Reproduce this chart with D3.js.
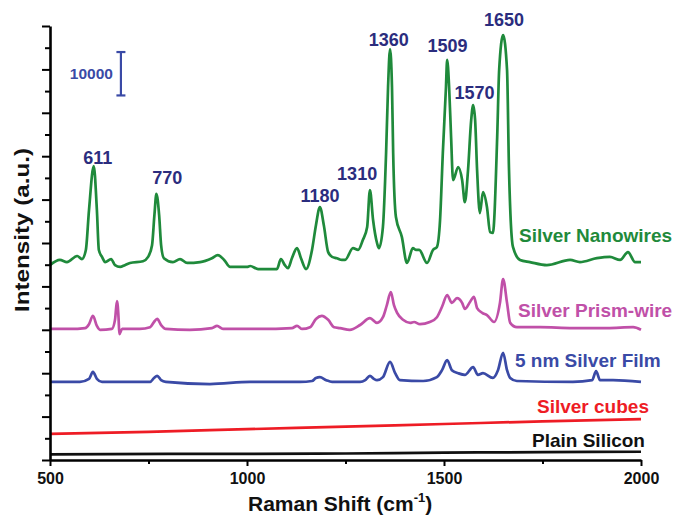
<!DOCTYPE html>
<html>
<head>
<meta charset="utf-8">
<script src="https://cdn.jsdelivr.net/npm/d3@7"></script>
<style>
  body { margin: 0; background: #fff; }
  svg { display: block; }
  .axis path, .axis line { stroke: #000; }
  text { font-family: "Liberation Sans", Arial, sans-serif; font-weight: bold; }
</style>
</head>
<body>
<div id="chart"></div>
<script>
// spectra: [Raman shift (cm-1), intensity]
var nanowires = [
  [500, 44900], [525, 46100], [543, 45600], [569, 47000], [581, 46300], [591, 48400],
  [599, 57600], [611, 67700], [619, 57600], [624, 48400], [632, 46800], [640, 45600],
  [655, 46300], [665, 44900], [678, 44500], [690, 44900], [703, 45400], [736, 45800],
  [749, 46800], [759, 49500], [765, 56400], [770, 61300], [777, 56400], [782, 49500],
  [789, 46500], [812, 45600], [830, 46300], [848, 45400], [881, 45600], [911, 46500],
  [926, 47200], [942, 46100], [957, 44500], [1000, 44500], [1008, 44700], [1028, 44000],
  [1076, 44000], [1086, 46300], [1096, 44900], [1104, 44200], [1114, 46500], [1127, 48800],
  [1137, 46500], [1150, 44000], [1165, 48400], [1175, 54100], [1185, 58300], [1195, 54100],
  [1206, 47900], [1216, 46800], [1228, 46500], [1241, 46100], [1249, 46100], [1269, 48800],
  [1282, 48400], [1294, 50700], [1305, 53700], [1312, 62200], [1320, 55300], [1330, 50000],
  [1335, 48800], [1345, 53700], [1353, 70700], [1358, 85900], [1363, 94700], [1368, 85900],
  [1371, 70700], [1378, 56000], [1393, 51400], [1406, 45400], [1421, 48800], [1429, 48400],
  [1437, 48400], [1457, 45400], [1472, 48400], [1482, 49100], [1490, 55300], [1497, 70700],
  [1505, 85900], [1508, 92200], [1513, 85900], [1518, 74400], [1523, 64500], [1536, 67500],
  [1546, 64500], [1553, 59400], [1561, 66800], [1569, 78300], [1574, 81800], [1579, 78300],
  [1584, 66800], [1591, 56900], [1599, 61700], [1609, 58300], [1617, 52500], [1624, 52300],
  [1635, 74400], [1640, 89900], [1650, 97900], [1660, 89900], [1665, 66800], [1675, 49100],
  [1693, 46100], [1718, 45600], [1761, 44900], [1820, 46100], [1845, 45600], [1888, 46500],
  [1921, 46800], [1947, 46100], [1967, 47900], [1985, 45600], [2000, 45600]
];

var prismwire = [
  [500, 30200], [551, 30200], [589, 30400], [599, 31300], [609, 33200], [619, 30900],
  [627, 30000], [657, 30200], [665, 32300], [670, 36600], [674, 32700], [676, 29000],
  [683, 30200], [728, 30200], [754, 30600], [764, 31800], [772, 32500], [782, 31100],
  [794, 30200], [855, 30000], [911, 30400], [924, 30900], [939, 30200], [1033, 30200],
  [1114, 30400], [1127, 30900], [1140, 30200], [1160, 30600], [1175, 32500], [1190, 33200],
  [1206, 32300], [1221, 30600], [1236, 30400], [1261, 30000], [1287, 31100], [1312, 32700],
  [1330, 31600], [1345, 32900], [1355, 35700], [1365, 38700], [1373, 35700], [1381, 33900],
  [1396, 32300], [1414, 31600], [1424, 31800], [1439, 31300], [1464, 31800], [1482, 32900],
  [1495, 35300], [1508, 38000], [1520, 36200], [1533, 37300], [1546, 36200], [1553, 34800],
  [1566, 36400], [1576, 37600], [1584, 35000], [1597, 33900], [1609, 33400], [1627, 31800],
  [1642, 36200], [1650, 41700], [1660, 36200], [1668, 31600], [1685, 30600], [1744, 30600],
  [1827, 30400], [1914, 30400], [1980, 30600], [2000, 30000]
];

var silverfilm = [
  [500, 18000], [576, 18000], [599, 18700], [609, 20300], [619, 18700], [632, 18000],
  [754, 18000], [764, 18900], [772, 19400], [782, 18400], [794, 18000], [906, 17500],
  [1008, 18000], [1135, 18000], [1165, 18200], [1175, 18900], [1185, 19100], [1201, 18400],
  [1216, 18000], [1287, 18000], [1300, 18400], [1312, 19400], [1322, 18700], [1330, 18400],
  [1345, 19100], [1363, 22600], [1376, 20000], [1388, 18400], [1447, 18200], [1482, 19100],
  [1495, 20700], [1508, 23000], [1520, 20700], [1536, 20000], [1553, 19600], [1574, 21400],
  [1586, 19600], [1599, 20000], [1624, 18900], [1637, 20700], [1650, 24700], [1660, 20700],
  [1668, 18900], [1685, 18200], [1827, 18000], [1876, 18400], [1886, 20500], [1896, 18400],
  [1929, 18400], [2000, 18000]
];

var cubes = [
  [500, 6000], [750, 6500], [1000, 7100], [1250, 7700], [1500, 8300], [1750, 8900], [2000, 9400]
];

var silicon = [
  [500, 1300], [800, 1400], [1000, 1400], [1250, 1500], [1500, 1700], [1750, 1800], [2000, 1900]
];

var seriesNames = ["Silver Nanowires", "Silver Prism-wire", "5 nm Silver Film", "Silver cubes", "Plain Silicon"];
var seriesColors = ["#1f8a3b", "#c050a8", "#3a4aa6", "#ee1c25", "#111111"];

var peakShifts = [611, 770, 1180, 1310, 1360, 1509, 1570, 1650];
var peakLabels = ["611", "770", "1180", "1310", "1360", "1509", "1570", "1650"];

var xTicks = [500, 1000, 1500, 2000];
var xMinorTicks = [750, 1250, 1750];
var scaleBarValue = 10000;

var width = 673, height = 515;
var svg = d3.select("#chart").append("svg").attr("width", width).attr("height", height);

var x = d3.scaleLinear().domain([500, 2000]).range([50, 641]);
var y = d3.scaleLinear().domain([0, 100000]).range([460, 26]);

var line = d3.line()
  .x(function(d) { return x(d[0]); })
  .y(function(d) { return y(d[1]); })
  .curve(d3.curveMonotoneX);

var allSeries = [nanowires, prismwire, silverfilm, cubes, silicon];

svg.append("g").selectAll("path").data(allSeries).enter().append("path")
  .attr("d", line)
  .attr("fill", "none")
  .attr("stroke", function(d, i) { return seriesColors[i]; })
  .attr("stroke-width", 2.7)
  .attr("stroke-linejoin", "round");

// axes
var yMajor = d3.range(0, 100001, 10000);
var yMinor = d3.range(5000, 100000, 10000);

svg.append("g").attr("class", "axis").attr("transform", "translate(50,0)")
  .call(d3.axisLeft(y).tickValues(yMinor).tickSize(5).tickSizeOuter(0).tickFormat(""))
  .call(function(g) { g.selectAll("line").attr("stroke-width", 2); g.select(".domain").remove(); });

svg.append("g").attr("class", "axis").attr("transform", "translate(50,0)")
  .call(d3.axisLeft(y).tickValues(yMajor).tickSize(8).tickSizeOuter(0).tickFormat(""))
  .call(function(g) { g.selectAll("line").attr("stroke-width", 2); g.select(".domain").attr("stroke-width", 2.6); });

svg.append("g").attr("class", "axis").attr("transform", "translate(0,460)")
  .call(d3.axisBottom(x).tickValues(xMinorTicks).tickSize(4).tickSizeOuter(0).tickFormat(""))
  .call(function(g) { g.selectAll("line").attr("stroke-width", 2); g.select(".domain").remove(); });

svg.append("g").attr("class", "axis").attr("transform", "translate(0,460)")
  .call(d3.axisBottom(x).tickValues(xTicks).tickSize(6).tickSizeOuter(0).tickPadding(7).tickFormat(d3.format("d")))
  .call(function(g) {
    g.selectAll("line").attr("stroke-width", 2);
    g.select(".domain").attr("stroke-width", 2.6);
    g.selectAll("text").attr("font-size", 16).attr("font-weight", "bold")
      .attr("font-family", "Liberation Sans, Arial, sans-serif").attr("fill", "#111");
  });

// axis titles
svg.append("text")
  .attr("transform", "translate(29,230) rotate(-90)")
  .attr("text-anchor", "middle")
  .attr("font-size", 21)
  .attr("textLength", 164)
  .attr("lengthAdjust", "spacingAndGlyphs")
  .attr("fill", "#111")
  .text("Intensity (a.u.)");

var xt = svg.append("text")
  .attr("x", 248).attr("y", 511)
  .attr("font-size", 21)
  .attr("fill", "#111");
xt.append("tspan").text("Raman Shift (cm");
xt.append("tspan").attr("font-size", 13).attr("dy", -9).text("-1");
xt.append("tspan").attr("dy", 9).text(")");

// peak labels, placed over the highest point near each shift
var peakDx = [4, 11, 2, -12, 0, 0, 3, 1];
var peakDy = [-2, -10, -5, -10, -3, -8, -6, -9];
svg.append("g").selectAll("text").data(peakShifts).enter().append("text")
  .attr("x", function(d, i) { return x(d) + peakDx[i]; })
  .attr("y", function(d, i) {
    var top = d3.max(nanowires.filter(function(p) { return Math.abs(p[0] - d) <= 8; }), function(p) { return p[1]; });
    return y(top) + peakDy[i];
  })
  .attr("text-anchor", "middle")
  .attr("font-size", 18)
  .attr("fill", "#2b2d7e")
  .text(function(d, i) { return peakLabels[i]; });

// series labels
var labelPos = [[519, 242], [518, 317], [515, 367], [537, 413], [532, 447]];
svg.append("g").selectAll("text").data(seriesNames).enter().append("text")
  .attr("x", function(d, i) { return labelPos[i][0]; })
  .attr("y", function(d, i) { return labelPos[i][1]; })
  .attr("font-size", 19)
  .attr("fill", function(d, i) { return seriesColors[i]; })
  .text(function(d) { return d; });

// 10000 counts scale bar
var barX = x(680), barTop = y(84000 + scaleBarValue), barBottom = y(84000);
var bar = svg.append("g").attr("stroke", "#3a4aa6").attr("stroke-width", 2.2);
bar.append("line").attr("x1", barX).attr("x2", barX).attr("y1", barTop).attr("y2", barBottom);
bar.append("line").attr("x1", barX - 4.5).attr("x2", barX + 4.5).attr("y1", barTop).attr("y2", barTop);
bar.append("line").attr("x1", barX - 4.5).attr("x2", barX + 4.5).attr("y1", barBottom).attr("y2", barBottom);
svg.append("text")
  .attr("x", barX - 8).attr("y", (barTop + barBottom) / 2 + 5)
  .attr("text-anchor", "end")
  .attr("font-family", "Liberation Serif, Times New Roman, serif")
  .attr("font-size", 15.5)
  .attr("fill", "#3a4aa6")
  .text(scaleBarValue);
</script>
</body>
</html>
